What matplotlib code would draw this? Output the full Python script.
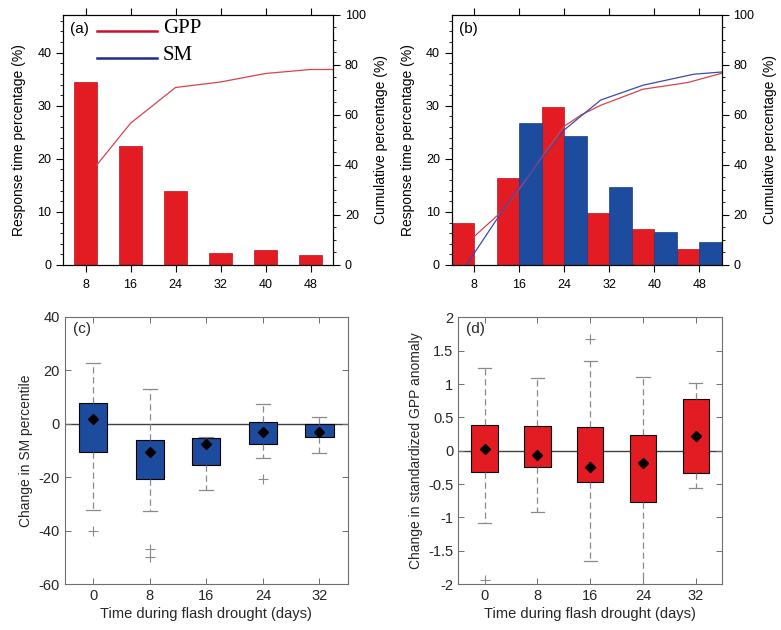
import matplotlib
matplotlib.use('Agg')
import matplotlib.pyplot as plt
from matplotlib.ticker import MultipleLocator

plt.rcParams['font.family'] = ['Liberation Sans', 'DejaVu Sans']
plt.rcParams['axes.unicode_minus'] = False

# response time histograms (%)
days = [8, 16, 24, 32, 40, 48]
gpp_a = [34.5, 22.4, 13.9, 2.3, 2.9, 1.8]
gpp_b = [8.0, 16.3, 29.7, 9.8, 6.8, 3.1]
sm_b = [0.0, 26.7, 24.3, 14.6, 6.2, 4.3]

# cumulative curves (%)
cum_a_x = [10, 16, 24, 32, 40, 48, 52]
cum_a_y = [40.0, 56.7, 71.0, 73.2, 76.6, 78.2, 78.2]
cum_gpp_b_x = [8, 13, 16.2, 20, 24, 27, 30.5, 38, 46, 52]
cum_gpp_b_y = [11.4, 21.6, 31.0, 43.0, 55.5, 60.0, 63.9, 70.3, 73.0, 76.7]
cum_sm_b_x = [6.6, 13, 16.2, 20, 24, 27, 30.5, 38, 47, 52]
cum_sm_b_y = [0.0, 21.6, 31.6, 42.5, 54.0, 59.6, 66.0, 71.9, 76.3, 77.2]

# box statistics during flash drought
t_days = [0, 8, 16, 24, 32]
sm_q1 = [-10.8, -20.6, -15.6, -7.5, -5.0]
sm_q3 = [7.8, -6.0, -5.5, 0.6, 0.0]
sm_mean = [1.9, -10.8, -7.5, -3.2, -3.2]
sm_lo = [-32.2, -32.5, -25.0, -12.8, -11.0]
sm_hi = [22.7, 12.8, -5.0, 7.4, 2.5]
sm_out = [[-40.0], [-47.0, -50.0], [], [-20.6], []]

gpp_q1 = [-0.325, -0.25, -0.465, -0.775, -0.33]
gpp_q3 = [0.385, 0.37, 0.35, 0.23, 0.77]
gpp_mean = [0.02, -0.065, -0.24, -0.19, 0.225]
gpp_lo = [-1.08, -0.925, -1.65, -2.2, -0.565]
gpp_hi = [1.235, 1.095, 1.345, 1.11, 1.01]
gpp_out = [[-1.94], [], [1.675], [], []]

RED = '#e31b23'
BLUE = '#1d4b9e'
LRED = '#d8434e'
NAVY = '#1f2a8c'

fig = plt.figure(figsize=(7.81, 6.3), dpi=100)


def hist_axes(rect, label):
    ax = fig.add_axes(rect)
    ax.set_xlim(4, 52)
    ax.set_ylim(0, 47.1)
    ax.set_xticks(days)
    ax.yaxis.set_major_locator(MultipleLocator(10))
    ax.yaxis.set_minor_locator(MultipleLocator(2))
    ax.tick_params(axis='both', which='major', direction='out', length=5,
                   width=0.8, labelsize=9)
    ax.tick_params(axis='x', top=True, pad=5)
    ax.tick_params(axis='y', which='minor', direction='out', length=2.5, width=0.6)
    ax.set_ylabel('Response time percentage (%)', fontsize=10, labelpad=8)
    ax.text(0.026, 0.943, label, transform=ax.transAxes, fontsize=11,
            va='center', ha='left')
    ax2 = ax.twinx()
    ax2.set_ylim(0, 100)
    ax2.yaxis.set_major_locator(MultipleLocator(20))
    ax2.yaxis.set_minor_locator(MultipleLocator(5))
    ax2.tick_params(axis='y', which='major', direction='out', length=5,
                    width=0.8, labelsize=9)
    ax2.tick_params(axis='y', which='minor', direction='out', length=2.5, width=0.6)
    ax2.set_ylabel('Cumulative percentage (%)', fontsize=10, labelpad=6)
    return ax, ax2


# (a)
axa, axa2 = hist_axes([0.0807, 0.5794, 0.3457, 0.3968], '(a)')
axa.bar(days, gpp_a, width=4, color=RED, edgecolor='#c01018', linewidth=0.5)
axa2.plot(cum_a_x, cum_a_y, color=LRED, lw=0.9)
axa2.set_xlim(4, 52)
axa.plot([0.125, 0.347], [0.936, 0.936], color='#c8102e', lw=1.8,
         transform=axa.transAxes, clip_on=False)
axa.plot([0.125, 0.347], [0.826, 0.826], color=NAVY, lw=1.8,
         transform=axa.transAxes, clip_on=False)
axa.text(0.37, 0.947, 'GPP', transform=axa.transAxes, fontsize=15,
         family='Liberation Serif', va='center')
axa.text(0.37, 0.836, 'SM', transform=axa.transAxes, fontsize=15,
         family='Liberation Serif', va='center')

# (b)
axb, axb2 = hist_axes([0.5784, 0.5794, 0.3457, 0.3968], '(b)')
axb.bar([d - 2 for d in days], gpp_b, width=4, color=RED, edgecolor='#c01018',
        linewidth=0.5)
axb.bar([d + 2 for d in days], sm_b, width=4, color=BLUE, edgecolor='#163d85',
        linewidth=0.5)
axb2.plot(cum_gpp_b_x, cum_gpp_b_y, color=LRED, lw=0.9)
axb2.plot(cum_sm_b_x, cum_sm_b_y, color='#3a4ca8', lw=0.9)
axb2.set_xlim(4, 52)


def box_axes(rect, label, ylabel, q1, q3, mean, lo, hi, out, color):
    ax = fig.add_axes(rect)
    stats = []
    for i in range(len(t_days)):
        stats.append({'q1': q1[i], 'q3': q3[i], 'med': mean[i], 'mean': mean[i],
                      'whislo': lo[i], 'whishi': hi[i], 'fliers': out[i]})
    ax.axhline(0, color='#404040', lw=1.0, zorder=1)
    ax.bxp(stats, positions=t_days, widths=4, capwidths=2, patch_artist=True,
           showmeans=True,
           boxprops=dict(facecolor=color, edgecolor='black', linewidth=0.8),
           medianprops=dict(linewidth=0),
           whiskerprops=dict(color='#8a8a8a', linestyle=(0, (5, 3)), linewidth=0.9),
           capprops=dict(color='#8a8a8a', linewidth=0.9),
           meanprops=dict(marker='D', markerfacecolor='black',
                          markeredgecolor='black', markersize=5.5),
           flierprops=dict(marker='+', markeredgecolor='#8a8a8a',
                           markersize=7, markeredgewidth=0.8))
    ax.set_xlim(-4, 36)
    ax.set_xticks(t_days)
    ax.set_xticklabels([str(t) for t in t_days])
    for s in ax.spines.values():
        s.set_color('#6e6e6e')
        s.set_linewidth(0.8)
    ax.tick_params(direction='in', length=4, width=0.7, top=True, right=True,
                   colors='#6e6e6e', labelcolor='#262626', labelsize=10.5)
    ax.set_xlabel('Time during flash drought (days)', fontsize=10.5,
                  color='#262626', labelpad=3)
    ax.set_ylabel(ylabel, fontsize=10, color='#262626', labelpad=4)
    ax.text(0.03, 0.955, label, transform=ax.transAxes, fontsize=11,
            va='center', ha='left', color='#262626')
    return ax


axc = box_axes([0.0832, 0.073, 0.362, 0.4243], '(c)', 'Change in SM percentile',
               sm_q1, sm_q3, sm_mean, sm_lo, sm_hi, sm_out, BLUE)
axc.set_ylim(-60, 40)
axc.set_yticks([-60, -40, -20, 0, 20, 40])

axd = box_axes([0.5868, 0.073, 0.338, 0.4233], '(d)',
               'Change in standardized GPP anomaly',
               gpp_q1, gpp_q3, gpp_mean, gpp_lo, gpp_hi, gpp_out, RED)
axd.set_ylim(-2, 2)
yt = [-2, -1.5, -1, -0.5, 0, 0.5, 1, 1.5, 2]
axd.set_yticks(yt)
axd.set_yticklabels(['%g' % v for v in yt])

plt.savefig('out.png', dpi=100)
